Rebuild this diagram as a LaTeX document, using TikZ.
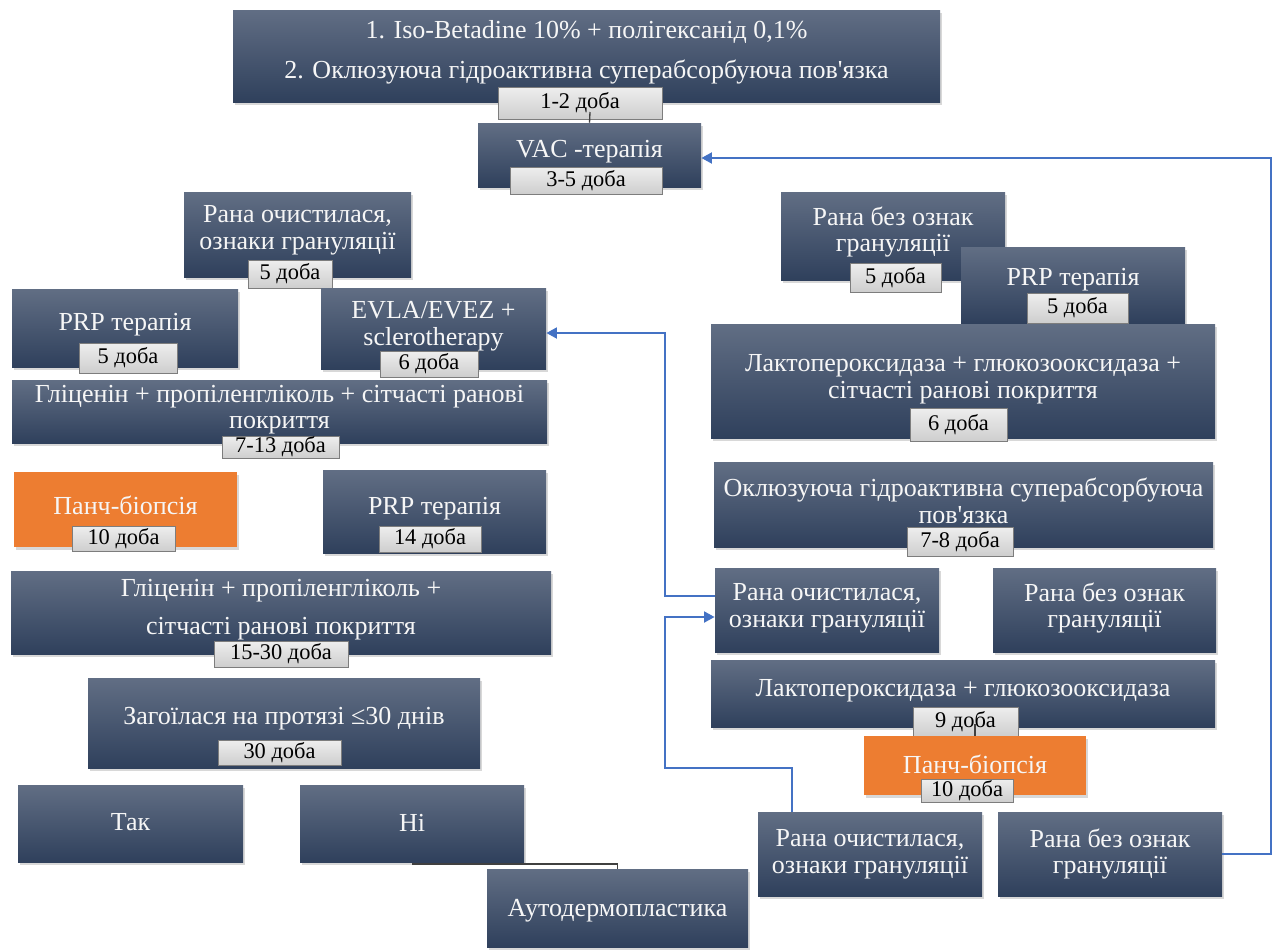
\documentclass[tikz,border=0pt]{standalone}
\usepackage{fontspec}
\setmainfont{Liberation Serif}[Ligatures=TeXOff]
\usetikzlibrary{shadows,arrows.meta}
\pgfdeclarelayer{bg}
\pgfsetlayers{bg,main}
\definecolor{boxtop}{RGB}{97,110,132}
\definecolor{boxbot}{RGB}{47,64,92}
\definecolor{orng}{RGB}{237,125,49}
\definecolor{labtop}{RGB}{238,238,238}
\definecolor{labbot}{RGB}{206,206,206}
\definecolor{labline}{RGB}{125,125,125}
\definecolor{conn}{RGB}{64,64,64}
\definecolor{arrblue}{RGB}{68,114,196}
\definecolor{txtw}{RGB}{246,246,246}
\newcommand\boxfont{\fontsize{19.5}{20}\selectfont}
\newcommand\labfont{\fontsize{16.8}{18}\selectfont}
% #1 name, #2-#5 corners (px), #6 box style, #7 text style, #8 text shift (px), #9 text
\newcommand\mkbox[9]{%
 \pgfmathsetmacro\mkcx{(#2+#4)/2}%
 \pgfmathsetmacro\mkcy{(#3+#5)/2}%
 \pgfmathsetmacro\mkty{(#3+#5)/2+#8}%
 \pgfmathsetmacro\mkw{(#4-#2)*0.75}%
 \pgfmathsetmacro\mkh{(#5-#3)*0.75}%
 \node[#6,minimum width=\mkw pt,minimum height=\mkh pt] (#1) at (\mkcx,\mkcy) {};
 \node[#7] (#1-t) at (\mkcx,\mkty) {#9};}
\tikzset{
 darkbox/.style={top color=boxtop,bottom color=boxbot,inner sep=0pt,
   drop shadow={shadow xshift=1.5pt,shadow yshift=-2pt,opacity=0.3}},
 orangebox/.style={fill=orng,inner sep=0pt,
   drop shadow={shadow xshift=1.5pt,shadow yshift=-2pt,opacity=0.3}},
 boxtext/.style={text=txtw,font=\boxfont,align=center,inner sep=0pt},
 lab/.style={top color=labtop,bottom color=labbot,draw=labline,line width=0.6pt,inner sep=0pt},
 labtext/.style={font=\labfont,text=black,inner sep=0pt},
 conline/.style={draw=conn,line width=1pt},
 bluearr/.style={draw=arrblue,line width=2.2pt,-{Triangle[length=8pt,width=8pt]}}
}
\begin{document}
\begin{tikzpicture}[x=0.75pt,y=-0.75pt]
\useasboundingbox (0,0) rectangle (1278,950);
\fill[white] (0,0) rectangle (1278,950);
% top
\mkbox{top}{233}{10}{940}{102}{darkbox}{boxtext,font=\fontsize{19.5}{30}\selectfont}{-4}{1. Iso-Betadine 10\% + полігексанід 0,1\%\\2. Оклюзуюча гідроактивна суперабсорбуюча пов'язка}
\mkbox{l12}{498}{87}{662}{119}{lab}{labtext}{0}{1-2 доба}
\mkbox{vac}{478}{123}{701}{187}{darkbox}{boxtext}{-3}{VAC -терапія}
\mkbox{l35}{510}{167}{662}{194}{lab}{labtext}{0}{3-5 доба}
% left branch
\mkbox{rl}{184}{192}{411}{277}{darkbox}{boxtext}{-4}{Рана очистилася,\\ознаки грануляції}
\mkbox{l5a}{248}{260}{332}{288}{lab}{labtext}{0}{5 доба}
\mkbox{prp1}{12}{289}{238}{367}{darkbox}{boxtext}{-3}{PRP терапія}
\mkbox{l5b}{79}{343}{177}{373}{lab}{labtext}{0}{5 доба}
\mkbox{evla}{321}{288}{546}{369}{darkbox}{boxtext}{-2}{EVLA/EVEZ +\\sclerotherapy}
\mkbox{l6a}{380}{351}{478}{377}{lab}{labtext}{0}{6 доба}
\mkbox{gl1}{12}{380}{547}{443}{darkbox}{boxtext}{-2}{Гліценін + пропіленгліколь + сітчасті ранові\\покриття}
\mkbox{l713}{222}{436}{339}{458}{lab}{labtext}{0}{7-13 доба}
\mkbox{panch1}{14}{472}{237}{547}{orangebox}{boxtext}{-4}{Панч-біопсія}
\mkbox{l10a}{72}{526}{175}{551}{lab}{labtext}{0}{10 доба}
\mkbox{prp14}{323}{470}{546}{553}{darkbox}{boxtext}{-3}{PRP терапія}
\mkbox{l14}{379}{526}{481}{552}{lab}{labtext}{0}{14 доба}
\mkbox{gl2}{11}{571}{551}{654}{darkbox}{boxtext,font=\fontsize{19.5}{28}\selectfont}{-3}{Гліценін + пропіленгліколь +\\сітчасті ранові покриття}
\mkbox{l1530}{214}{641}{348}{667}{lab}{labtext}{0}{15-30 доба}
\mkbox{zag}{88}{678}{480}{768}{darkbox}{boxtext}{-4}{Загоїлася на протязі ≤30 днів}
\mkbox{l30}{218}{740}{341}{765}{lab}{labtext}{0}{30 доба}
\mkbox{tak}{18}{785}{243}{862}{darkbox}{boxtext}{-1}{Так}
\mkbox{ni}{300}{785}{524}{862}{darkbox}{boxtext}{-1}{Ні}
\mkbox{auto}{487}{869}{748}{947}{darkbox}{boxtext}{3}{Аутодермопластика}
% right branch
\mkbox{rr}{781}{192}{1005}{280}{darkbox}{boxtext}{-4}{Рана без ознак\\грануляції}
\mkbox{l5c}{850}{263}{941}{292}{lab}{labtext}{0}{5 доба}
\mkbox{prp2}{961}{247}{1185}{323}{darkbox}{boxtext}{-5}{PRP терапія}
\mkbox{l5d}{1027}{293}{1128}{323}{lab}{labtext}{0}{5 доба}
\mkbox{lac1}{711}{324}{1215}{438}{darkbox}{boxtext}{-2}{Лактопероксидаза + глюкозооксидаза +\\сітчасті ранові покриття}
\mkbox{l6b}{910}{408}{1007}{441}{lab}{labtext}{0}{6 доба}
\mkbox{okl}{714}{462}{1213}{547}{darkbox}{boxtext}{-4}{Оклюзуюча гідроактивна суперабсорбуюча\\пов'язка}
\mkbox{l78}{907}{527}{1013}{556}{lab}{labtext}{0}{7-8 доба}
\mkbox{rc2}{715}{568}{939}{652}{darkbox}{boxtext}{-2}{Рана очистилася,\\ознаки грануляції}
\mkbox{rb2}{993}{568}{1216}{652}{darkbox}{boxtext}{-2}{Рана без ознак\\грануляції}
\mkbox{lac2}{711}{660}{1215}{727}{darkbox}{boxtext}{-3}{Лактопероксидаза + глюкозооксидаза}
\mkbox{l9}{913}{707}{1018}{736}{lab}{labtext}{0}{9 доба}
\mkbox{panch2}{864}{736}{1086}{795}{orangebox}{boxtext}{-1}{Панч-біопсія}
\mkbox{l10b}{921}{779}{1013}{802}{lab}{labtext}{0}{10 доба}
\mkbox{rc3}{758}{812}{982}{896}{darkbox}{boxtext}{0}{Рана очистилася,\\ознаки грануляції}
\mkbox{rb3}{998}{812}{1222}{896}{darkbox}{boxtext}{0}{Рана без ознак\\грануляції}
% helper coordinates
\coordinate (d1) at (0,339);
\coordinate (d2) at (0,317);
\coordinate (j713) at (280,457);
\coordinate (j14) at (281,557);
\coordinate (jz) at (284,772);
\coordinate (jo) at (963,555);
\coordinate (jp) at (975,797);
\coordinate (jn) at (0,864);
\coordinate (c12) at (590,112);
\coordinate (c9) at (975,724);
\coordinate (bR) at (1271,158);
\coordinate (bM1) at (665,596);
\coordinate (bEy) at (0,333);
\coordinate (bB) at (792,768);
\coordinate (bM2) at (665,768);
\coordinate (bT) at (0,617);
% grey tree connectors
\begin{pgfonlayer}{bg}
\draw[conline] (rl.north) |- (vac.south) -| (rr.north);
\draw[conline] (prp2.north) -- ++(0,-4);
\draw[conline] (prp1.north) |- (rl.south) -| (evla.north);
\draw[conline] (prp1.east |- d1) -- (evla.west |- d2);
\draw[conline] (evla.south) -| (gl1.north);
\draw[conline] (gl1.south) -- (j713);
\draw[conline] (panch1.north) |- (j713) -| (prp14.north);
\draw[conline] (prp14.south) |- (j14) -- (gl2.north);
\draw[conline] (gl2.south -| zag.north) -- (zag.north);
\draw[conline] (zag.south) -- (jz);
\draw[conline] (tak.north) |- (jz) -| (ni.north);
\draw[conline] (lac1.south) -- (lac1.south |- okl.north);
\draw[conline] (okl.south) -- (jo);
\draw[conline] (rc2.north) |- (jo) -| (rb2.north);
\draw[conline] (rb2.south) -| (lac2.north);
\draw[conline] (panch2.south) -- (jp);
\draw[conline] (rc3.north) |- (jp) -| (rb3.north);
\end{pgfonlayer}
\draw[conline] (ni.south |- jn) -| (auto.north);
\draw[conline] (vac.north) -- (c12);
\draw[conline] (panch2.north) -- (c9);
% blue feedback arrows
\draw[bluearr] (rb3.east) -| (bR) -- (vac.east |- bR);
\draw[bluearr] (rc2.west |- bM1) -- (bM1) |- (evla.east |- bEy);
\draw[bluearr] (rc3.north -| bB) -- (bB) -- (bM2) |- (rc2.west |- bT);
\end{tikzpicture}
\end{document}
